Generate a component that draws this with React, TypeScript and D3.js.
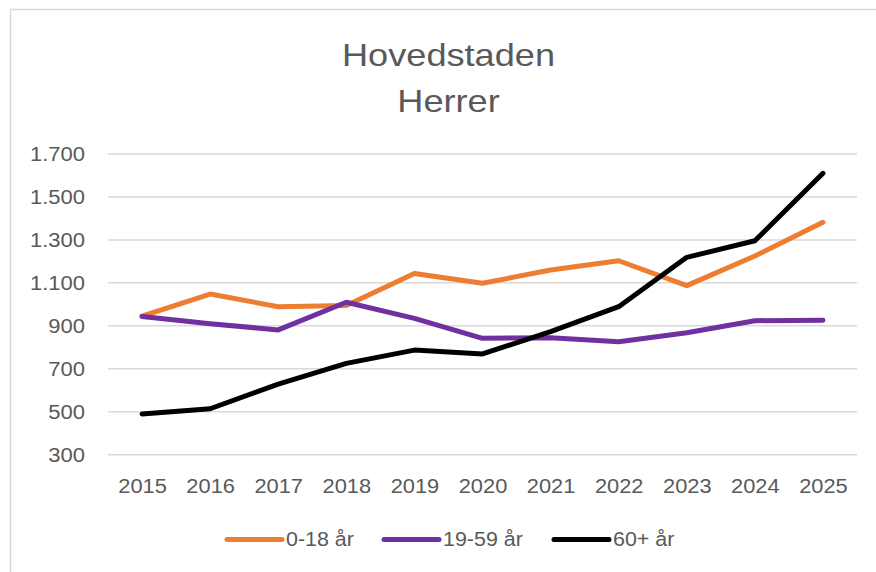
import React from "react";
import * as d3 from "d3";

const years = ["2015","2016","2017","2018","2019","2020","2021","2022","2023","2024","2025"];
const age0to18 = [945, 1048, 989, 995, 1144, 1098, 1160, 1203, 1087, 1225, 1382];
const age19to59 = [943, 910, 881, 1010, 935, 842, 845, 826, 868, 924, 926];
const age60plus = [490, 514, 629, 725, 787, 769, 873, 989, 1219, 1296, 1610];
const yTicks = [300, 500, 700, 900, 1100, 1300, 1500, 1700];
const titleLines = ["Hovedstaden", "Herrer"];
const seriesNames = ["0-18 år", "19-59 år", "60+ år"];
const seriesColors = ["#ED7D31", "#7030A0", "#000000"];

const W = 876, H = 572;
const FONT = "'Liberation Sans', Arial, sans-serif";
const TXT = "#595959";

function T({ x, y, sx, size, anchor, children }: { x: number; y: number; sx: number; size: number; anchor?: string; children: React.ReactNode }) {
  return (
    <text transform={`translate(${x},${y}) scale(${sx},1)`} textAnchor={anchor || "start"} fontFamily={FONT} fontSize={size} fill={TXT}>
      {children}
    </text>
  );
}

export default function App() {
  const x = d3.scalePoint<string>().domain(years).range([108, 857]).padding(0.5);
  const y = d3.scaleLinear().domain([300, 1700]).range([454.7, 154]);
  const line = d3.line<number>().x((_, i) => x(years[i])!).y(d => y(d));
  const series = [age0to18, age19to59, age60plus];
  const fmt = (v: number) => d3.format(",")(v).replace(/,/g, ".");
  const legendX = [227, 384, 554];

  return (
    <div style={{ position: "absolute", left: 0, top: 0 }}>
      <svg width={W} height={H} style={{ display: "block", background: "#fff" }}>
        <rect x={10.5} y={9.5} width={W + 10} height={H + 10} fill="#fff" stroke="#D9D9D9" strokeWidth={1.5} />
        {titleLines.map((t, i) => (
          <T key={t} x={448.5} y={66 + i * 46} sx={1.13} size={32} anchor="middle">{t}</T>
        ))}
        {yTicks.map(v => (
          <g key={v}>
            <line x1={108} x2={857} y1={y(v)} y2={y(v)} stroke="#D9D9D9" strokeWidth={1.5} />
            <T x={85} y={y(v) + 7} sx={1.13} size={19.5} anchor="end">{fmt(v)}</T>
          </g>
        ))}
        {years.map(yr => (
          <T key={yr} x={x(yr)! + 0.5} y={493} sx={1.12} size={19.5} anchor="middle">{yr}</T>
        ))}
        {series.map((s, i) => (
          <path key={i} d={line(s)!} fill="none" stroke={seriesColors[i]} strokeWidth={5} strokeLinejoin="round" strokeLinecap="round" />
        ))}
        {seriesNames.map((n, i) => (
          <g key={n}>
            <line x1={legendX[i]} x2={legendX[i] + 55} y1={539.5} y2={539.5} stroke={seriesColors[i]} strokeWidth={5} strokeLinecap="round" />
            <T x={legendX[i] + 59} y={546} sx={1.1} size={19.5}>{n}</T>
          </g>
        ))}
      </svg>
    </div>
  );
}
